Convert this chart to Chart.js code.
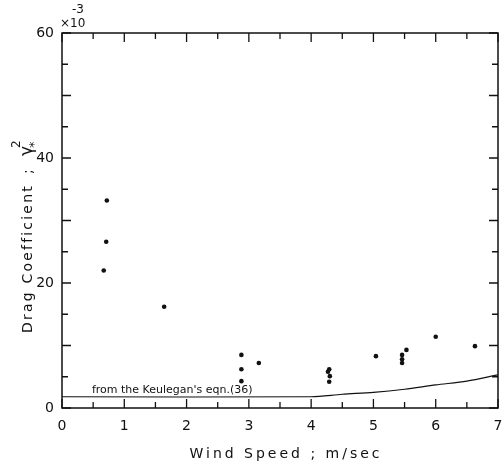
<!DOCTYPE html>
<html>
<head>
<meta charset="utf-8">
<script src="https://cdn.jsdelivr.net/npm/chart.js@4"></script>
<style>
  html, body { margin: 0; padding: 0; background: #fff; }
  canvas { display: block; }
</style>
</head>
<body>
<canvas id="myChart" width="502" height="465"></canvas>
<script>
// tick labels
const xLabels = [0, 1, 2, 3, 4, 5, 6, 7];
const yLabels = [0, 20, 40, 60];

// measured drag coefficients (x10^-3) vs wind speed (m/sec)
const windSpeed = [0.67, 0.71, 0.72, 1.64, 2.88, 2.88, 2.88, 3.16, 4.27, 4.29, 4.30, 4.29, 5.04, 5.46, 5.46, 5.46, 5.53, 6.00, 6.63];
const dragCoef  = [22.0, 26.6, 33.2, 16.2, 8.5, 6.2, 4.3, 7.2, 5.8, 6.2, 5.1, 4.2, 8.3, 8.5, 7.8, 7.2, 9.3, 11.4, 9.9];

// Keulegan's eqn.(36)
const keuleganX = [0, 4.0, 4.5, 5.0, 5.5, 6.0, 6.5, 7.0];
const keuleganY = [1.8, 1.8, 2.2, 2.5, 3.0, 3.7, 4.3, 5.3];

const FONT = 'DejaVu Sans';
const INK = '#111';

const framePlugin = {
    id: 'frame',
    afterDraw(chart) {
        const ctx = chart.ctx;
        const area = chart.chartArea;
        const xs = chart.scales.x;
        const ys = chart.scales.y;
        ctx.save();
        ctx.strokeStyle = INK;
        ctx.lineWidth = 1.5;
        ctx.strokeRect(area.left, area.top, area.right - area.left, area.bottom - area.top);

        // inward ticks on all four sides
        ctx.lineWidth = 1.3;
        ctx.beginPath();
        for (let v = 0; v <= 7; v += 0.5) {
            const px = xs.getPixelForValue(v);
            const len = Number.isInteger(v) ? 9 : 6;
            ctx.moveTo(px, area.bottom);
            ctx.lineTo(px, area.bottom - len);
            ctx.moveTo(px, area.top);
            ctx.lineTo(px, area.top + len);
        }
        for (let v = 0; v <= 60; v += 5) {
            const py = ys.getPixelForValue(v);
            const len = v % 10 === 0 ? 9 : 6;
            ctx.moveTo(area.left, py);
            ctx.lineTo(area.left + len, py);
            ctx.moveTo(area.right, py);
            ctx.lineTo(area.right - len, py);
        }
        ctx.stroke();

        ctx.fillStyle = INK;
        ctx.textBaseline = 'alphabetic';

        // curve label
        ctx.font = '11px ' + FONT;
        ctx.textAlign = 'left';
        ctx.fillText("from the Keulegan's eqn.(36)", xs.getPixelForValue(0.48), ys.getPixelForValue(2.4));

        // exponent
        ctx.font = '12px ' + FONT;
        ctx.fillText('\u00d710', 60, 27);
        ctx.fillText('-3', 72, 13);

        // x title
        ctx.font = '14px ' + FONT;
        ctx.letterSpacing = '3px';
        ctx.textAlign = 'center';
        ctx.fillText('Wind Speed ; m/sec', 286, 458);

        // y title
        ctx.textAlign = 'left';
        ctx.translate(32, 333);
        ctx.rotate(-Math.PI / 2);
        ctx.letterSpacing = '2.2px';
        ctx.fillText('Drag Coefficient', 0, 0);
        const w = ctx.measureText('Drag Coefficient').width;
        ctx.letterSpacing = '0px';
        ctx.fillText(';', w + 10, 0);
        ctx.font = '17px ' + FONT;
        ctx.fillText('\u03b3', w + 28, 0);
        ctx.font = '13px ' + FONT;
        ctx.fillText('*', w + 36, 6);
        ctx.font = '12px ' + FONT;
        ctx.fillText('2', w + 36, -12);
        ctx.restore();
    }
};

new Chart(document.getElementById('myChart'), {
    type: 'scatter',
    data: {
        datasets: [
            {
                label: 'Measured',
                data: windSpeed.map((x, i) => ({ x: x, y: dragCoef[i] })),
                backgroundColor: INK,
                borderColor: INK,
                pointRadius: 2.3,
                borderWidth: 0,
                showLine: false
            },
            {
                label: "Keulegan's eqn.(36)",
                data: keuleganX.map((x, i) => ({ x: x, y: keuleganY[i] })),
                borderColor: INK,
                borderWidth: 1.2,
                pointRadius: 0,
                showLine: true,
                fill: false,
                tension: 0.3
            }
        ]
    },
    options: {
        responsive: false,
        animation: false,
        layout: { padding: { left: 0, right: 4, top: 33, bottom: 0 } },
        plugins: {
            legend: { display: false },
            tooltip: { enabled: false }
        },
        scales: {
            x: {
                type: 'linear',
                min: 0,
                max: 7,
                afterBuildTicks: s => { s.ticks = xLabels.map(v => ({ value: v })); },
                afterFit: s => { s.height = 57; s.paddingLeft = 0; s.paddingRight = 0; },
                grid: { display: false, drawTicks: false },
                border: { display: false },
                ticks: { color: INK, font: { family: FONT, size: 14 }, padding: 10, maxRotation: 0 }
            },
            y: {
                min: 0,
                max: 60,
                afterBuildTicks: s => { s.ticks = yLabels.map(v => ({ value: v })); },
                afterFit: s => { s.width = 62; s.paddingTop = 0; s.paddingBottom = 0; },
                grid: { display: false, drawTicks: false },
                border: { display: false },
                ticks: { color: INK, font: { family: FONT, size: 14 }, padding: 8 }
            }
        }
    },
    plugins: [framePlugin]
});
</script>
</body>
</html>
